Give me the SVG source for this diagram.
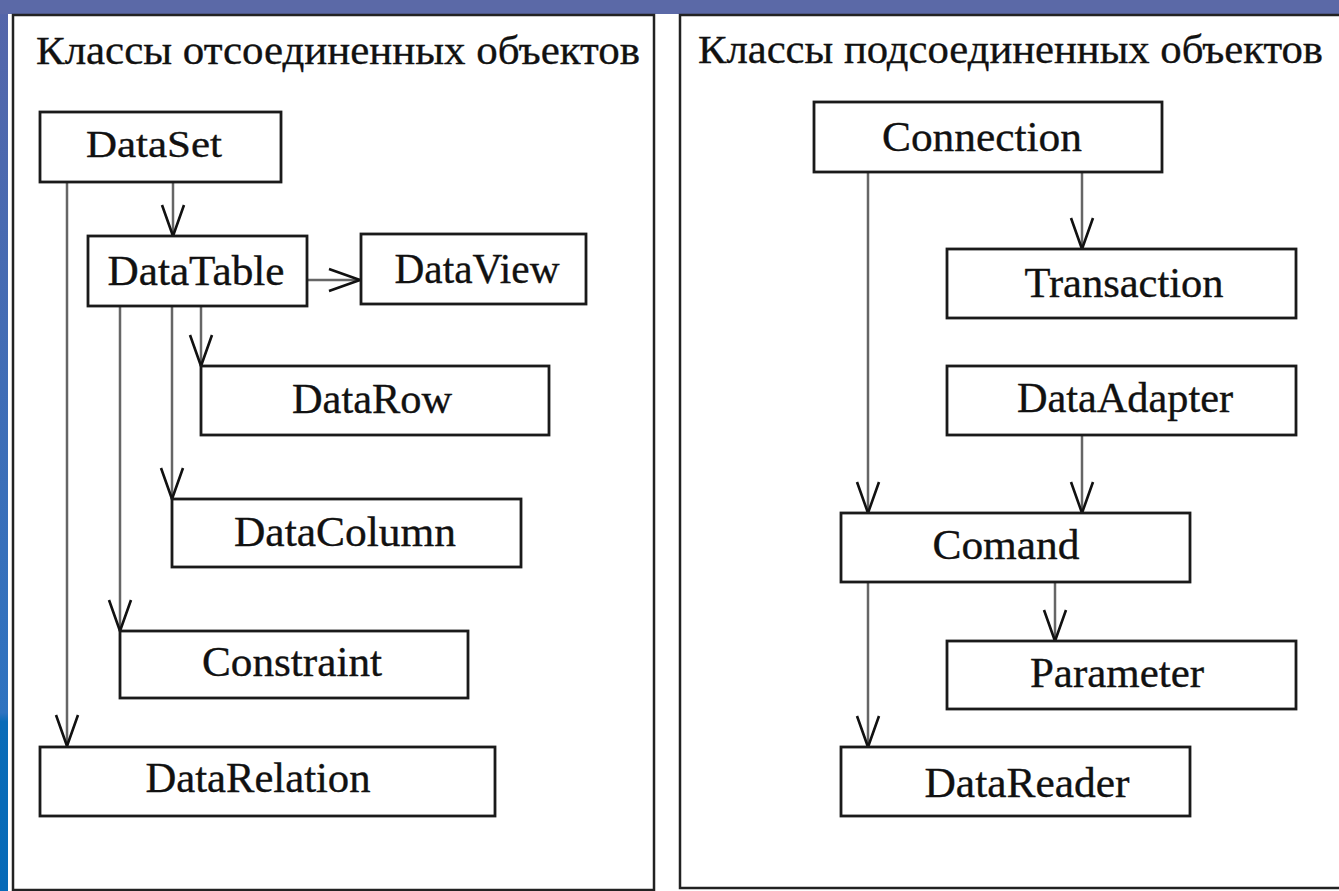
<svg xmlns="http://www.w3.org/2000/svg" width="1339" height="891" viewBox="0 0 1339 891">
<style>
.panel{fill:none;stroke:#222;stroke-width:2.5}
.box{fill:#fff;stroke:#1a1a1a;stroke-width:2.8}
.lbl{font-family:"Liberation Serif","Times New Roman",serif;font-size:42px;fill:#111;stroke:#111;stroke-width:0.35;text-anchor:middle}
.title{font-family:"Liberation Serif","Times New Roman",serif;font-size:41px;fill:#111;stroke:#111;stroke-width:0.35}
.con{fill:none;stroke:#666;stroke-width:2.5;marker-end:url(#vee)}
</style>
<defs>
<linearGradient id="strip" x1="0" y1="0" x2="0" y2="1">
<stop offset="0" stop-color="#5566aa"/>
<stop offset="0.8" stop-color="#2e73c0"/>
<stop offset="0.81" stop-color="#0a6cb8"/>
<stop offset="1" stop-color="#066ab8"/>
</linearGradient>
<marker id="vee" markerUnits="userSpaceOnUse" viewBox="-34 -14 36 28" markerWidth="36" markerHeight="28" refX="0" refY="0" orient="auto" overflow="visible">
<path d="M-31,-11 L0,0 L-31,11" fill="none" stroke="#111" stroke-width="2.6"/>
</marker>
</defs>
<rect x="0" y="0" width="1339" height="891" fill="#fff"/>
<rect x="0" y="0" width="1339" height="14" fill="#5b69a7"/>
<rect x="0" y="0" width="8" height="891" fill="url(#strip)"/>
<rect x="0" y="0" width="8" height="14" fill="#5b69a7"/>

<g id="panel-left">
<rect class="panel" x="13" y="15" width="641" height="875"/>
<text class="title" x="36" y="64" textLength="604" lengthAdjust="spacingAndGlyphs">Классы отсоединенных объектов</text>
</g>
<g id="panel-right">
<rect class="panel" x="680" y="15" width="680" height="873"/>
<text class="title" x="698" y="63" textLength="625" lengthAdjust="spacingAndGlyphs">Классы подсоединенных объектов</text>
</g>

<g id="connectors">
<path class="con" d="M173,182 L173,236"/>
<path class="con" d="M67,182 L67,746"/>
<path class="con" d="M307,280 L360,280"/>
<path class="con" d="M201,306 L201,366"/>
<path class="con" d="M172,306 L172,499"/>
<path class="con" d="M120,306 L120,631"/>
<path class="con" d="M1082,172 L1082,249"/>
<path class="con" d="M868,172 L868,513"/>
<path class="con" d="M1082,435 L1082,513"/>
<path class="con" d="M1055,582 L1055,641"/>
<path class="con" d="M868,582 L868,747"/>
</g>

<g id="DataSet"><rect class="box" x="40" y="112" width="241" height="70"/><text class="lbl" x="154" y="157" style="font-size:37px" textLength="136" lengthAdjust="spacingAndGlyphs">DataSet</text></g>
<g id="DataTable"><rect class="box" x="88" y="236" width="219" height="70"/><text class="lbl" x="196" y="285" textLength="177" lengthAdjust="spacingAndGlyphs">DataTable</text></g>
<g id="DataView"><rect class="box" x="361" y="234" width="225" height="70"/><text class="lbl" x="477" y="283" textLength="165" lengthAdjust="spacingAndGlyphs">DataView</text></g>
<g id="DataRow"><rect class="box" x="201" y="366" width="348" height="69"/><text class="lbl" x="372" y="413" textLength="160" lengthAdjust="spacingAndGlyphs">DataRow</text></g>
<g id="DataColumn"><rect class="box" x="172" y="499" width="349" height="68"/><text class="lbl" x="345" y="546" textLength="222" lengthAdjust="spacingAndGlyphs">DataColumn</text></g>
<g id="Constraint"><rect class="box" x="120" y="631" width="348" height="67"/><text class="lbl" x="292" y="676" textLength="180" lengthAdjust="spacingAndGlyphs">Constraint</text></g>
<g id="DataRelation"><rect class="box" x="40" y="747" width="455" height="69"/><text class="lbl" x="258" y="792" textLength="225" lengthAdjust="spacingAndGlyphs">DataRelation</text></g>

<g id="Connection"><rect class="box" x="814" y="102" width="348" height="70"/><text class="lbl" x="982" y="151" textLength="200" lengthAdjust="spacingAndGlyphs">Connection</text></g>
<g id="Transaction"><rect class="box" x="947" y="249" width="349" height="69"/><text class="lbl" x="1124" y="297" textLength="199" lengthAdjust="spacingAndGlyphs">Transaction</text></g>
<g id="DataAdapter"><rect class="box" x="947" y="366" width="349" height="69"/><text class="lbl" x="1125" y="412" textLength="216" lengthAdjust="spacingAndGlyphs">DataAdapter</text></g>
<g id="Comand"><rect class="box" x="841" y="513" width="349" height="69"/><text class="lbl" x="1006" y="559" textLength="147" lengthAdjust="spacingAndGlyphs">Comand</text></g>
<g id="Parameter"><rect class="box" x="947" y="641" width="349" height="68"/><text class="lbl" x="1117" y="687" textLength="174" lengthAdjust="spacingAndGlyphs">Parameter</text></g>
<g id="DataReader"><rect class="box" x="841" y="747" width="349" height="69"/><text class="lbl" x="1027" y="797" textLength="205" lengthAdjust="spacingAndGlyphs">DataReader</text></g>
</svg>
